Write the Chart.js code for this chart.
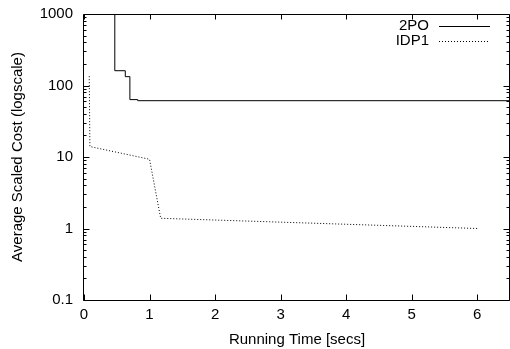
<!DOCTYPE html>
<html>
<head>
<meta charset="utf-8">
<script src="https://cdn.jsdelivr.net/npm/chart.js@4"></script>
<style>
  html, body { margin: 0; padding: 0; background: #fff; }
  #wrap { width: 510px; height: 349px; }
</style>
</head>
<body>
<div id="wrap"><canvas id="costChart" width="510" height="349"></canvas></div>
<script>
// values
const poTimes = [0.47, 0.47, 0.63, 0.70, 0.82, 6.5];
const poCost = [2000, 161, 133, 63.5, 61.3, 61.3];
const idpTimes = [0.08, 0.09, 1.0, 1.17, 6.0];
const idpCost = [135, 14, 9.3, 1.39, 1.0];

const xTicks = [0, 1, 2, 3, 4, 5, 6];
const yTicks = [0.1, 1, 10, 100, 1000];

const FONT = "'Liberation Sans', Arial, Helvetica, sans-serif";

function toPoints(xs, ys) {
  return xs.map((x, i) => ({ x: x, y: ys[i] }));
}

// gnuplot-like frame with inward ticks on all four sides, plus legend
const framePlugin = {
  id: 'frame',
  afterDraw(chart) {
    const c = chart.ctx;
    const xs = chart.scales.x;
    const ys = chart.scales.y;
    const a = chart.chartArea;
    const L = a.left - 0.5, R = a.right - 0.5, T = a.top + 0.5, B = a.bottom + 0.5;

    c.save();
    c.strokeStyle = '#000';
    c.lineWidth = 1;
    c.beginPath();
    c.rect(L, T, R - L, B - T);

    xTicks.forEach(v => {
      const px = Math.round(xs.getPixelForValue(v)) + 0.5;
      c.moveTo(px, B); c.lineTo(px, B - 6);
      c.moveTo(px, T); c.lineTo(px, T + 5);
    });

    yTicks.forEach((v, i) => {
      const py = Math.round(ys.getPixelForValue(v)) + 0.5;
      c.moveTo(L, py); c.lineTo(L + 6, py);
      c.moveTo(R, py); c.lineTo(R - 6, py);
      if (i < yTicks.length - 1) {
        for (let k = 2; k <= 9; k++) {
          const pm = Math.round(ys.getPixelForValue(v * k)) + 0.5;
          c.moveTo(L, pm); c.lineTo(L + 3, pm);
          c.moveTo(R, pm); c.lineTo(R - 3, pm);
        }
      }
    });
    c.stroke();

    // legend
    c.font = '15px ' + FONT;
    c.fillStyle = '#000';
    c.textAlign = 'right';
    c.textBaseline = 'middle';
    chart.data.datasets.forEach((ds, i) => {
      const y = 26 + i * 15;
      c.fillText(ds.label, 429, y);
      c.beginPath();
      c.setLineDash(ds.borderDash || []);
      c.moveTo(439, y + 0.5);
      c.lineTo(490, y + 0.5);
      c.stroke();
    });
    c.restore();
  }
};

const ctx = document.getElementById('costChart').getContext('2d');
const costChart = new Chart(ctx, {
  type: 'line',
  data: {
    datasets: [
      {
        label: '2PO',
        data: toPoints(poTimes, poCost),
        borderColor: '#000',
        borderWidth: 1,
        stepped: 'before',
        pointRadius: 0,
        fill: false
      },
      {
        label: 'IDP1',
        data: toPoints(idpTimes, idpCost),
        borderColor: '#000',
        borderWidth: 1,
        borderDash: [1, 2],
        pointRadius: 0,
        tension: 0,
        fill: false
      }
    ]
  },
  options: {
    responsive: false,
    animation: false,
    layout: { padding: { top: 14, right: 0, left: 0, bottom: 0 } },
    plugins: {
      legend: { display: false },
      tooltip: { enabled: false }
    },
    scales: {
      x: {
        type: 'linear',
        min: 0,
        max: 6.5,
        grid: { display: false, drawTicks: false },
        border: { display: false },
        afterBuildTicks: (s) => { s.ticks = xTicks.map(v => ({ value: v })); },
        afterFit: (s) => { s.height = 49; s.paddingLeft = 0; s.paddingRight = 0; },
        ticks: {
          color: '#000',
          padding: 6,
          maxRotation: 0,
          font: { family: FONT, size: 15 },
          callback: (v) => String(v)
        },
        title: {
          display: true,
          text: 'Running Time [secs]',
          color: '#000',
          padding: { top: 0, bottom: 0 },
          font: { family: FONT, size: 15 }
        }
      },
      y: {
        type: 'logarithmic',
        min: 0.1,
        max: 1000,
        grid: { display: false, drawTicks: false },
        border: { display: false },
        afterBuildTicks: (s) => { s.ticks = yTicks.map(v => ({ value: v })); },
        afterFit: (s) => { s.width = 84; s.paddingTop = 0; s.paddingBottom = 0; },
        ticks: {
          color: '#000',
          padding: 11,
          font: { family: FONT, size: 15 },
          callback: (v) => String(v)
        },
        title: {
          display: true,
          text: 'Average Scaled Cost (logscale)',
          color: '#000',
          padding: { top: 9, bottom: 0 },
          font: { family: FONT, size: 15 }
        }
      }
    }
  },
  plugins: [framePlugin]
});
</script>
</body>
</html>
